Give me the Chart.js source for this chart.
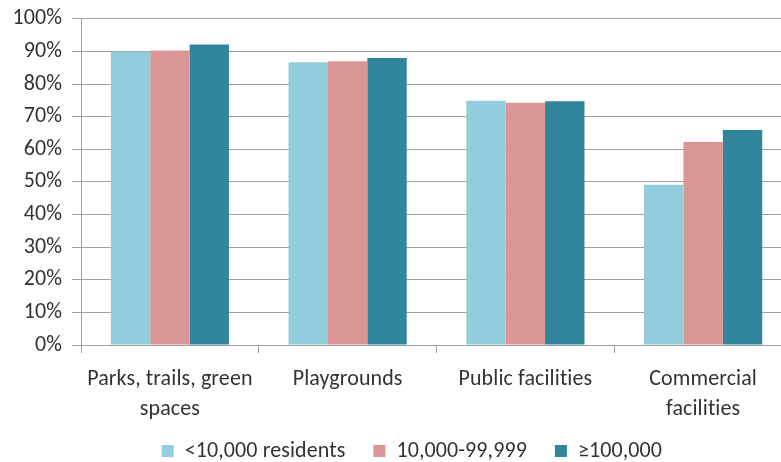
<!DOCTYPE html>
<html>
<head>
<meta charset="utf-8">
<script src="https://cdn.jsdelivr.net/npm/chart.js@4/dist/chart.umd.min.js"></script>
<style>
  html, body { margin: 0; padding: 0; background: #fff; overflow: hidden; }
  #wrap { width: 781px; height: 462px; overflow: hidden; }
</style>
</head>
<body>
<div id="wrap"><canvas id="bar-chart" width="792" height="499"></canvas></div>
<script>
// Share of respondents by community size
const categories = [["Parks, trails, green", "spaces"], "Playgrounds", "Public facilities", ["Commercial", "facilities"]];
const seriesNames = ["<10,000 residents", "10,000-99,999", "\u2265100,000"];
const smallTowns = [90.0, 86.7, 74.9, 49.1];
const midCities = [90.3, 87.0, 74.3, 62.2];
const largeCities = [92.1, 88.0, 74.7, 65.9];
const seriesColors = ["#93CDDD", "#D99694", "#31859C"];

const fontFamily = "Carlito, Calibri, 'Liberation Sans Narrow', 'Open Sans', sans-serif";
const gridColor = "#a0a0a0";

// nudge the legend so it sits centred under the full chart, just below the labels
const legendShift = {
  id: "legendShift",
  afterLayout(chart) {
    const lg = chart.legend;
    lg.left += 14;
    lg.right += 14;
    lg.top -= 23;
    lg.bottom -= 23;
  },
  beforeDraw(chart) {
    // a hair of letter spacing keeps "ti" from turning into a ligature
    chart.ctx.letterSpacing = "0.1px";
  },
};

const ctx = document.getElementById("bar-chart").getContext("2d");
const chart = new Chart(ctx, {
  type: "bar",
  data: {
    labels: categories,
    datasets: [smallTowns, midCities, largeCities].map((values, i) => ({
      label: seriesNames[i],
      data: values,
      backgroundColor: seriesColors[i],
      borderWidth: 0,
      barPercentage: 1,
      categoryPercentage: 0.665,
    })),
  },
  options: {
    responsive: false,
    animation: false,
    layout: { padding: { top: 9, left: 0, right: 0, bottom: 4 } },
    scales: {
      x: {
        grid: {
          offset: true,
          drawOnChartArea: false,
          drawTicks: true,
          tickLength: 8,
          color: gridColor,
        },
        border: { color: gridColor },
        ticks: {
          color: "#333",
          padding: 12,
          maxRotation: 0,
          font: { family: fontFamily, size: 22, lineHeight: 1.36 },
        },
        afterFit: (scale) => { scale.height = 90; },
      },
      y: {
        min: 0,
        max: 100,
        grid: { color: gridColor, tickLength: 9 },
        border: { color: gridColor },
        ticks: {
          stepSize: 10,
          color: "#333",
          padding: 10,
          font: { family: fontFamily, size: 22, lineHeight: 0.8 },
          callback: (v) => v + "%",
        },
        afterFit: (scale) => { scale.width = 81; },
      },
    },
    plugins: {
      tooltip: { enabled: false },
      legend: {
        position: "bottom",
        labels: {
          boxWidth: 12,
          boxHeight: 12,
          padding: 28,
          color: "#333",
          font: { family: fontFamily, size: 22 },
        },
      },
    },
  },
  plugins: [legendShift],
});
</script>
</body>
</html>
